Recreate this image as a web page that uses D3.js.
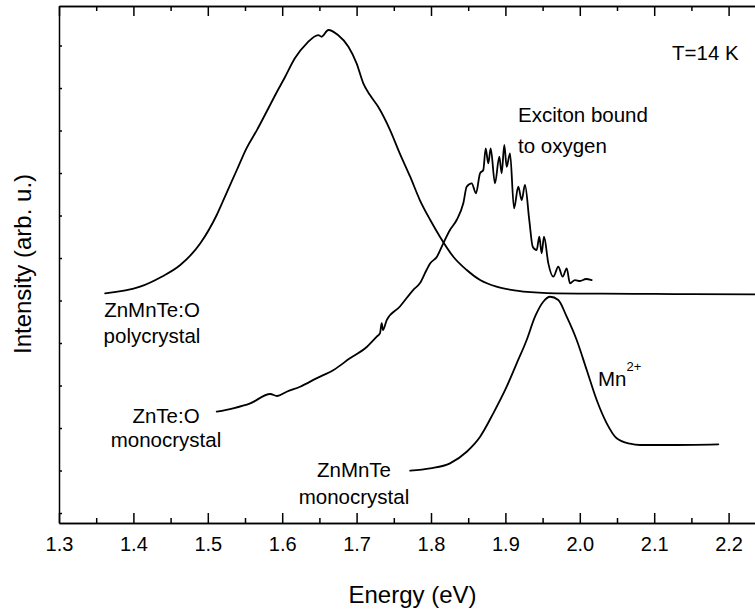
<!DOCTYPE html>
<html>
<head>
<meta charset="utf-8">
<script src="https://cdn.jsdelivr.net/npm/d3@7"></script>
<style>
  html, body { margin: 0; padding: 0; background: #fff; }
  svg { display: block; font-family: "Liberation Sans", Arial, Helvetica, sans-serif; }
</style>
</head>
<body>
<svg id="chart" width="755" height="611"></svg>
<script>
// Photoluminescence spectra at T = 14 K (intensity in arbitrary units, curves offset vertically)

// ZnMnTe:O polycrystal
const polyEnergy = [1.362, 1.409, 1.438, 1.463, 1.490, 1.512, 1.525, 1.539, 1.552, 1.566, 1.579, 1.593,
  1.604, 1.617, 1.633, 1.6485, 1.653, 1.662, 1.675, 1.689, 1.700, 1.709, 1.718, 1.729, 1.745, 1.758,
  1.772, 1.785, 1.799, 1.812, 1.830, 1.848, 1.866, 1.888, 1.915, 1.956, 2.030, 2.100, 2.150, 2.250];
const polyIntensity = [5.17, 5.325, 5.56, 5.835, 6.346, 7.012, 7.522, 8.071, 8.581, 9.01, 9.442, 9.913,
  10.266, 10.699, 11.052, 11.247, 11.207, 11.365, 11.247, 10.972, 10.581, 10.111, 9.835, 9.56, 9.012, 8.464,
  7.913, 7.365, 6.894, 6.501, 6.031, 5.718, 5.482, 5.325, 5.231, 5.175, 5.16, 5.155, 5.15, 5.145];

// ZnTe:O monocrystal (exciton bound to oxygen)
const znteEnergy = [1.512, 1.534, 1.557, 1.584, 1.593, 1.606, 1.624, 1.646, 1.669, 1.691, 1.714, 1.727,
  1.7315, 1.7337, 1.7355, 1.7405, 1.758, 1.776, 1.785, 1.794, 1.799, 1.808, 1.8165, 1.8255, 1.8345, 1.8434,
  1.848, 1.8547, 1.8605, 1.8659, 1.8703, 1.8735, 1.877, 1.8802, 1.886, 1.8918, 1.895, 1.8985, 1.9017, 1.9062,
  1.9116, 1.9173, 1.9219, 1.9263, 1.9321, 1.9367, 1.942, 1.9456, 1.9487, 1.9519, 1.9577, 1.9644, 1.9711,
  1.977, 1.9824, 1.9868, 1.9935, 2.0003, 2.0083, 2.016];
const znteIntensity = [2.384, 2.464, 2.581, 2.80, 2.753, 2.854, 2.972, 3.169, 3.365, 3.64, 3.913, 4.148,
  4.235, 4.47, 4.306, 4.541, 4.854, 5.247, 5.405, 5.718, 5.875, 6.031, 6.346, 6.659, 6.894, 7.287,
  7.678, 7.758, 7.522, 7.993, 8.071, 8.581, 8.228, 8.581, 7.758, 8.384, 7.993, 8.659, 8.148, 8.464,
  7.169, 7.678, 7.365, 7.718, 6.894, 6.266, 6.188, 6.501, 6.111, 6.501, 5.875, 5.56, 5.795,
  5.56, 5.758, 5.405, 5.482, 5.459, 5.506, 5.482];

// ZnMnTe monocrystal (Mn2+ intra-ion band)
const mnEnergy = [1.772, 1.799, 1.8255, 1.848, 1.866, 1.8837, 1.9017, 1.9152, 1.9286, 1.9398, 1.9509,
  1.960, 1.9711, 1.9824, 1.9958, 2.0093, 2.0227, 2.0362, 2.0496, 2.0675, 2.0809, 2.1168, 2.1862];
const mnIntensity = [0.995, 1.052, 1.169, 1.442, 1.795, 2.346, 2.972, 3.522, 4.071, 4.619, 4.972,
  5.089, 5.012, 4.619, 4.071, 3.365, 2.659, 2.111, 1.758, 1.63, 1.60, 1.60, 1.616];

// Axis ticks
const xMajorTicks = [1.3, 1.4, 1.5, 1.6, 1.7, 1.8, 1.9, 2.0, 2.1, 2.2];
const xMinorTicks = [1.35, 1.45, 1.55, 1.65, 1.75, 1.85, 1.95, 2.05, 2.15, 2.25];
const yTicks = [0, 1, 2, 3, 4, 5, 6, 7, 8, 9, 10, 11];

const svg = d3.select("#chart");
const plotLeft = 59, plotTop = 6, plotBottom = 523;
const pxPerEv = 744;              // horizontal length of 1 eV
const xMin = 1.3, xMax = 2.25;

const x = d3.scaleLinear().domain([xMin, xMax]).range([plotLeft, plotLeft + (xMax - xMin) * pxPerEv]);
const y = d3.scaleLinear().domain([-0.235, 11.93]).range([plotBottom, plotTop]);

const toPoints = (es, is) => es.map((e, i) => [e, is[i]]);

const spectrum = d3.line().x(d => x(d[0])).y(d => y(d[1])).curve(d3.curveMonotoneX);

const curves = svg.append("g").attr("fill", "none").attr("stroke", "#000")
  .attr("stroke-width", 1.8).attr("stroke-linejoin", "round").attr("stroke-linecap", "round");
curves.append("path").attr("d", spectrum(toPoints(polyEnergy, polyIntensity)));
curves.append("path").attr("d", spectrum(toPoints(znteEnergy, znteIntensity)));
curves.append("path").attr("d", spectrum(toPoints(mnEnergy, mnIntensity)));

// Axes
const fmt = d3.format(".1f");
function styleAxis(g) {
  g.selectAll("path, line").attr("stroke", "#000").attr("stroke-width", 1.5);
  g.selectAll("text").attr("fill", "#000").attr("font-size", 20)
    .attr("font-family", "\"Liberation Sans\", Arial, Helvetica, sans-serif");
}

svg.append("g").attr("transform", `translate(0,${plotBottom})`)
  .call(d3.axisBottom(x).tickValues(xMinorTicks).tickSize(-5).tickSizeOuter(0).tickFormat(""))
  .call(styleAxis);
svg.append("g").attr("transform", `translate(0,${plotBottom})`)
  .call(d3.axisBottom(x).tickValues(xMajorTicks).tickSize(-10).tickSizeOuter(0).tickPadding(14).tickFormat(fmt))
  .call(styleAxis);

svg.append("g").attr("transform", `translate(0,${plotTop})`)
  .call(d3.axisTop(x).tickValues(xMinorTicks).tickSize(-5).tickSizeOuter(0).tickFormat(""))
  .call(styleAxis);
svg.append("g").attr("transform", `translate(0,${plotTop})`)
  .call(d3.axisTop(x).tickValues(xMajorTicks).tickSize(-10).tickSizeOuter(0).tickFormat(""))
  .call(styleAxis);

svg.append("g").attr("transform", `translate(${plotLeft},0)`)
  .call(d3.axisLeft(y).tickValues(yTicks).tickSize(-3).tickSizeOuter(0).tickFormat(""))
  .call(styleAxis);

// Axis titles
svg.append("text").attr("x", 412.5).attr("y", 603).attr("text-anchor", "middle")
  .attr("font-size", 24).text("Energy (eV)");
svg.append("text").attr("transform", "translate(31,264) rotate(-90)").attr("text-anchor", "middle")
  .attr("font-size", 24).text("Intensity (arb. u.)");

// Annotations
const note = (tx, ty, str, anchor) => svg.append("text").attr("x", tx).attr("y", ty)
  .attr("text-anchor", anchor || "start").attr("font-size", 20.5).text(str);

note(672, 60, "T=14 K");
note(518, 121.5, "Exciton bound");
note(518, 153, "to oxygen");
note(152, 317, "ZnMnTe:O", "middle");
note(152, 343, "polycrystal", "middle");
note(166, 423, "ZnTe:O", "middle");
note(166, 447, "monocrystal", "middle");
note(354, 477, "ZnMnTe", "middle");
note(354, 504, "monocrystal", "middle");

const mn = note(598, 386, "Mn");
mn.append("tspan").attr("font-size", 13).attr("dy", -15).text("2+");
</script>
</body>
</html>
